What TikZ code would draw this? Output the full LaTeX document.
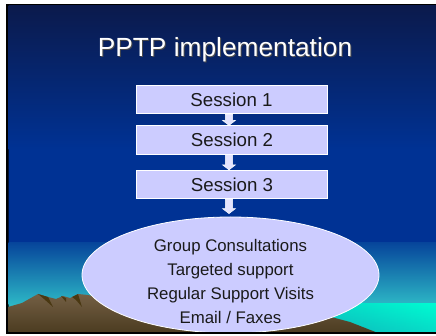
\documentclass[tikz,border=0pt]{standalone}
\usepackage{fontspec}
\setmainfont{Liberation Sans}
\usetikzlibrary{shapes.geometric,calc}

\definecolor{skytop}{HTML}{0B1A4C}
\definecolor{skymid}{HTML}{003294}
\definecolor{haze}{HTML}{2DB8C6}
\definecolor{seabright}{HTML}{00FBD2}
\definecolor{seadeep}{HTML}{12A8B6}
\definecolor{rock}{HTML}{735F44}
\definecolor{rockdark}{HTML}{4B3B20}
\definecolor{rockshade}{HTML}{4A3812}
\definecolor{lilac}{HTML}{CCCCFF}
\definecolor{arrowfill}{HTML}{E4E4FF}
\definecolor{ink}{HTML}{1A1A1A}

\tikzset{
  sessbox/.style={draw=white, line width=0.8pt, fill=lilac, minimum width=191pt,
    minimum height=28.5pt, inner sep=0pt, text=ink,
    font=\fontsize{18.7}{20}\selectfont},
  oval/.style={ellipse, draw=white, line width=0.8pt, fill=lilac,
    minimum width=297pt, minimum height=116pt, inner sep=0pt},
  blockarrow/.style={draw=white, fill=arrowfill, line width=0.5pt,
    to path={let \p1=(\tikztostart), \p2=(\tikztotarget) in
      (\x1-3.6pt,\y1) -- (\x1+3.6pt,\y1) -- (\x1+3.6pt,\y2+5pt) -- (\x1+6.5pt,\y2+5pt)
      -- (\x1,\y2) -- (\x1-6.5pt,\y2+5pt) -- (\x1-3.6pt,\y2+5pt) -- cycle}},
}

\begin{document}
\begin{tikzpicture}[x=1pt,y=-1pt]
\useasboundingbox (0,0) rectangle (436,336);
\fill[white] (0,0) rectangle (436,336);
% slide frame
\fill[black] (6,4.5) rectangle (436,333.5);
\begin{scope}
  \clip (8.5,6) rectangle (436,331.5);
  % sky
  \shade[top color=skytop, bottom color=skymid] (8,5) rectangle (436,150);
  \fill[skymid] (8,149.5) rectangle (436,243.5);
  \shade[top color=skymid!85!haze, bottom color=haze] (8,243) rectangle (436,305);
  \fill[haze] (8,304) rectangle (436,334);
  % sea
  \shade[left color=seadeep, right color=seabright] (280,304) rectangle (436,334);
  \shade[top color=seabright, bottom color=seadeep, opacity=0.4] (280,304) rectangle (436,334);
  % mountains
  \shade[top color=rock, bottom color=rockdark]
    (8,307) -- (22,303) -- (38,294) -- (48,297) -- (56,299) -- (63,296) -- (70,298)
    -- (78,294) -- (88,295) -- (110,300) -- (180,305) -- (260,308) -- (320,314)
    -- (350,322) -- (378,333) -- (8,333) -- cycle;
  \fill[rockshade] (38,294) -- (48,297) -- (53,307) -- (44,299) -- cycle;
  \fill[rockshade] (61,296) -- (66,298) -- (66,302) -- cycle;
  \fill[rockshade] (72,297) -- (78,294) -- (82,307) -- (76,300) -- cycle;

  % title
  \node[font=\fontsize{26.3}{30}\selectfont, text=black!70, anchor=base] at (226,58) {PPTP implementation};
  \node[font=\fontsize{26.3}{30}\selectfont, text=white, anchor=base] (title) at (225,57) {PPTP implementation};

  % sessions
  \node[sessbox] (s1) at (231.5,99.5) {Session 1};
  \node[sessbox] (s2) at (232,140) {Session 2};
  \node[sessbox] (s3) at (232,184.5) {Session 3};

  % activities
  \node[oval] (ov) at (230.5,275) {};
  \node[align=center, text=ink, font=\fontsize{16.8}{24}\selectfont] (acts) at (230.5,281)
    {Group Consultations\\Targeted support\\Regular Support Visits\\Email / Faxes};

  % flow arrows
  \draw[blockarrow] ([xshift=-2.5pt]s1.south) to ([xshift=-2.5pt]s2.north);
  \draw[blockarrow] ([xshift=-3pt]s2.south) to ([xshift=-3pt]s3.north);
  \draw[blockarrow] ([xshift=-3pt]s3.south) to ([xshift=-1.5pt,yshift=3pt]ov.north);
\end{scope}
\end{tikzpicture}
\end{document}
